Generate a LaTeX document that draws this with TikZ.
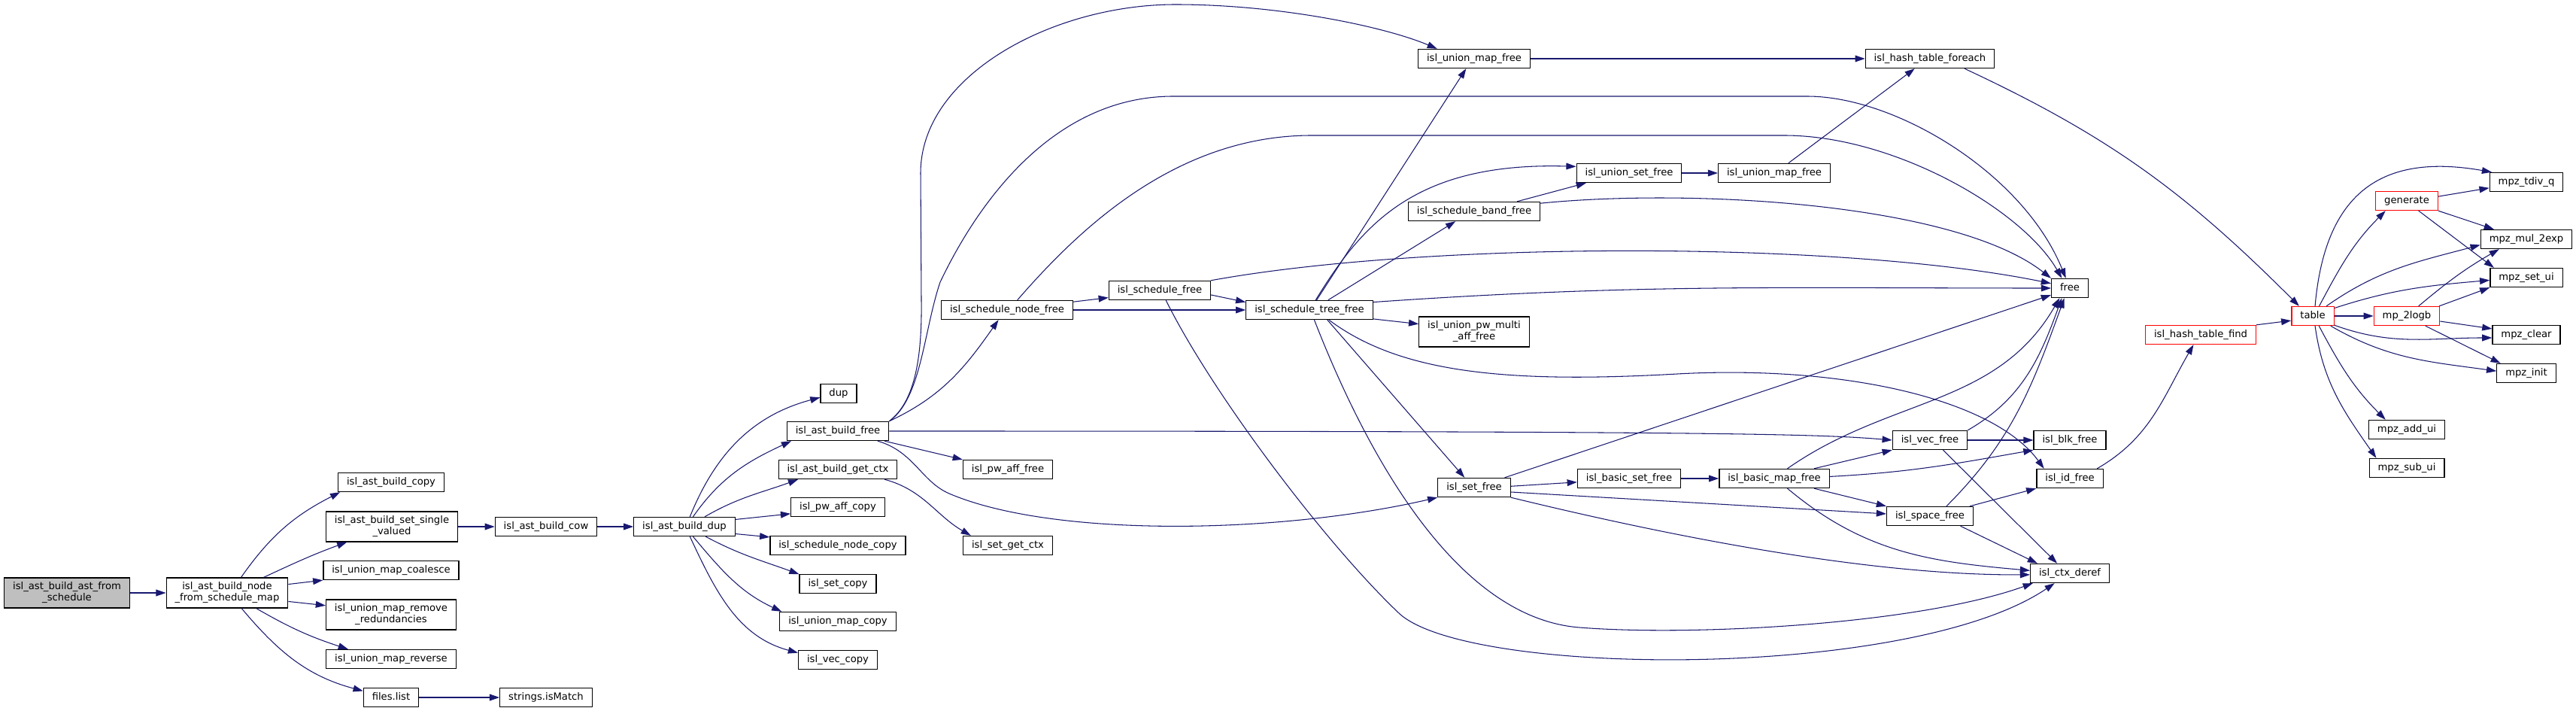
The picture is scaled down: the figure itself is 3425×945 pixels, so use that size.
\documentclass[tikz,border=0pt]{standalone}
\usepackage{fontspec}
\setmainfont{DejaVu Sans}
\usepackage{tikz}
\usetikzlibrary{arrows.meta}
\definecolor{dx-edge}{HTML}{191970}
\definecolor{dx-root}{HTML}{BFBFBF}
\definecolor{dx-red}{HTML}{FF0000}

\begin{document}
\begin{tikzpicture}[x=0.02cm, y=0.02cm,
    fn/.style={draw, line width=0.7pt, fill=white, inner xsep=6.5pt, inner ysep=3.3pt, minimum height=14.2pt, text height=5.8pt, text depth=1.9pt, font=\fontsize{7.5pt}{8.5pt}\selectfont},
    fntwo/.style={draw, line width=0.7pt, fill=white, inner xsep=6.5pt, inner ysep=3.3pt, minimum height=22.7pt, align=center, font=\fontsize{7.5pt}{8.5pt}\selectfont},
    rootfn/.style={fill=dx-root},
    redfn/.style={draw=dx-red},
    callto/.style={draw=dx-edge, line width=0.6pt, -{Triangle[length=7.5pt,width=5pt]}}]
    \useasboundingbox (0,0) rectangle (3425,-945);
    \fill[white] (0,0) rectangle (3425,-945);

    \node[fntwo, rootfn] (astsched) at (89,-788) {isl\_ast\_build\_ast\_from\\\_schedule};
    \node[fntwo] (nodemap) at (302,-788) {isl\_ast\_build\_node\\\_from\_schedule\_map};
    \node[fn] (bcopy) at (520,-641) {isl\_ast\_build\_copy};
    \node[fntwo] (single) at (521,-700) {isl\_ast\_build\_set\_single\\\_valued};
    \node[fn] (coalesce) at (520,-758) {isl\_union\_map\_coalesce};
    \node[fntwo] (redund) at (520,-817) {isl\_union\_map\_remove\\\_redundancies};
    \node[fn] (reverse) at (520,-876) {isl\_union\_map\_reverse};
    \node[fn] (flist) at (520,-927) {files.list};
    \node[fn] (cow) at (726,-700) {isl\_ast\_build\_cow};
    \node[fn] (ismatch) at (726,-927) {strings.isMatch};
    \node[fn] (bdup) at (910,-700) {isl\_ast\_build\_dup};
    \node[fn] (dup) at (1115,-523) {dup};
    \node[fn] (bfree) at (1114,-573) {isl\_ast\_build\_free};
    \node[fn] (getctx) at (1114,-624) {isl\_ast\_build\_get\_ctx};
    \node[fn] (pwcopy) at (1114,-674) {isl\_pw\_aff\_copy};
    \node[fn] (sncopy) at (1114,-725) {isl\_schedule\_node\_copy};
    \node[fn] (setcopy) at (1114,-776) {isl\_set\_copy};
    \node[fn] (umcopy) at (1114,-826) {isl\_union\_map\_copy};
    \node[fn] (veccopy) at (1114,-877) {isl\_vec\_copy};
    \node[fn] (pwfree) at (1340,-624) {isl\_pw\_aff\_free};
    \node[fn] (setctx) at (1340,-725) {isl\_set\_get\_ctx};
    \node[fn] (snfree) at (1339,-412) {isl\_schedule\_node\_free};
    \node[fn] (sfree) at (1542,-386) {isl\_schedule\_free};
    \node[fn] (tfree) at (1741,-412) {isl\_schedule\_tree\_free};
    \node[fn] (umfree) at (1960,-78) {isl\_union\_map\_free};
    \node[fn] (bandfree) at (1960,-281) {isl\_schedule\_band\_free};
    \node[fntwo] (upmafree) at (1960,-441) {isl\_union\_pw\_multi\\\_aff\_free};
    \node[fn] (setfree) at (1960,-648) {isl\_set\_free};
    \node[fn] (usfree) at (2166,-230) {isl\_union\_set\_free};
    \node[fn] (bsfree) at (2166,-636) {isl\_basic\_set\_free};
    \node[fn] (umfreetwo) at (2359,-230) {isl\_union\_map\_free};
    \node[fn] (bmfree) at (2359,-636) {isl\_basic\_map\_free};
    \node[fn] (foreach) at (2566,-78) {isl\_hash\_table\_foreach};
    \node[fn] (vecfree) at (2566,-585) {isl\_vec\_free};
    \node[fn] (spfree) at (2566,-686) {isl\_space\_free};
    \node[fn] (free) at (2752,-383) {free};
    \node[fn] (blkfree) at (2752,-585) {isl\_blk\_free};
    \node[fn] (idfree) at (2752,-636) {isl\_id\_free};
    \node[fn] (ctxderef) at (2752,-762) {isl\_ctx\_deref};
    \node[fn, redfn] (find) at (2926,-445) {isl\_hash\_table\_find};
    \node[fn, redfn] (table) at (3075,-420) {table};
    \node[fn, redfn] (generate) at (3200,-267) {generate};
    \node[fn, redfn] (logb) at (3200,-420) {mp\_2logb};
    \node[fn] (tdivq) at (3359,-242) {mpz\_tdiv\_q};
    \node[fn] (mulexp) at (3359,-318) {mpz\_mul\_2exp};
    \node[fn] (setui) at (3359,-369) {mpz\_set\_ui};
    \node[fn] (clear) at (3359,-445) {mpz\_clear};
    \node[fn] (init) at (3359,-496) {mpz\_init};
    \node[fn] (addui) at (3200,-571) {mpz\_add\_ui};
    \node[fn] (subui) at (3200,-622) {mpz\_sub\_ui};

    \draw[callto] (astsched) -- (nodemap);
    \draw[callto] (nodemap.48) to[out=55,in=207] (bcopy.191);
    \draw[callto] (nodemap.23) to[out=25,in=200] (single.199);
    \draw[callto] (nodemap.8) -- (coalesce.south west);
    \draw[callto] (nodemap.352) -- (redund.172);
    \draw[callto] (nodemap.332) to[out=-30,in=162] (reverse.167);
    \draw[callto] (nodemap.313) to[out=-50,in=165] (flist.167);
    \draw[callto] (single) -- (cow);
    \draw[callto] (cow) -- (bdup);
    \draw[callto] (flist) -- (ismatch);

    \draw[callto] (bdup.61) to[out=68,in=195] (dup.192);
    \draw[callto] (bdup.49) to[out=55,in=205] (bfree.192);
    \draw[callto] (bdup.26) to[out=30,in=200] (getctx.194);
    \draw[callto] (bdup.8) -- (pwcopy.188);
    \draw[callto] (bdup.352) -- (sncopy.173);
    \draw[callto] (bdup.335) to[out=-28,in=160] (setcopy.166);
    \draw[callto] (bdup.311) to[out=-50,in=155] (umcopy.170);
    \draw[callto] (bdup.299) to[out=-65,in=165] (veccopy.170);

    \draw[callto] (bfree.north east) .. controls (1215,-535) and (1226,-480) .. (1225,-400) -- (1224,-230) .. controls (1224,-100) and (1400,-6) .. (1563,-6) .. controls (1700,-6) and (1840,-35) .. (umfree.165);
    \draw[callto] (bfree.north east) .. controls (1225,-530) and (1228,-440) .. (1250,-375) .. controls (1300,-270) and (1400,-128) .. (1560,-128) -- (2403,-128) .. controls (2520,-128) and (2690,-230) .. (free.112);
    \draw[callto] (bfree.north east) to[out=25,in=235] (snfree.229);
    \draw[callto] (bfree.east) .. controls (2300,-573) and (2420,-577) .. (vecfree.west);
    \draw[callto] (bfree.348) -- (pwfree.north west);
    \draw[callto] (bfree.346) .. controls (1215,-600) and (1225,-640) .. (1262,-656) .. controls (1400,-715) and (1700,-710) .. (setfree.south west);
    \draw[callto] (getctx.348) to[out=-15,in=150] (setctx.165);

    \draw[callto] (snfree.7) -- (sfree.188);
    \draw[callto] (snfree) -- (tfree);
    \draw[callto] (snfree.44) .. controls (1430,-310) and (1560,-180) .. (1744,-180) -- (2372,-180) .. controls (2520,-180) and (2690,-280) .. (free.129);
    \draw[callto] (sfree.355) -- (tfree.173);
    \draw[callto] (sfree.11) .. controls (1900,-320) and (2450,-320) .. (free.166);
    \draw[callto] (sfree.302) .. controls (1610,-520) and (1760,-720) .. (1860,-815) .. controls (1950,-900) and (2540,-905) .. (ctxderef.213);

    \draw[callto] (tfree.54) -- (umfree.231);
    \draw[callto] (tfree.58) .. controls (1810,-300) and (1880,-215) .. (usfree.173);
    \draw[callto] (tfree.28) -- (bandfree.208);
    \draw[callto] (tfree.7) to[out=4,in=180] (free.west);
    \draw[callto] (tfree.352) -- (upmafree.172);
    \draw[callto] (tfree.331) -- (setfree.134);
    \draw[callto] (tfree.333) .. controls (1860,-495) and (2000,-510) .. (2230,-497) .. controls (2450,-485) and (2650,-530) .. (idfree.159);
    \draw[callto] (tfree.296) .. controls (1800,-560) and (1920,-820) .. (2100,-834) .. controls (2250,-846) and (2550,-830) .. (ctxderef.195);

    \draw[callto] (umfree) -- (foreach);
    \draw[callto] (usfree) -- (umfreetwo);
    \draw[callto] (umfreetwo.35) -- (foreach.213);
    \draw[callto] (bandfree.13) -- (usfree.193);
    \draw[callto] (bandfree.7) .. controls (2250,-250) and (2600,-270) .. (free.north west);
    \draw[callto] (setfree.18) -- (free.200);
    \draw[callto] (setfree.2) -- (bsfree.184);
    \draw[callto] (setfree.353) -- (spfree.177);
    \draw[callto] (setfree.south east) .. controls (2250,-720) and (2500,-765) .. (ctxderef.182);
    \draw[callto] (bsfree) -- (bmfree);
    \draw[callto] (bmfree.14) -- (vecfree.south west);
    \draw[callto] (bmfree.2) to[out=3,in=190] (blkfree.south west);
    \draw[callto] (bmfree.346) -- (spfree.north west);
    \draw[callto] (bmfree.323) to[out=-40,in=175] (ctxderef.176);
    \draw[callto] (bmfree.37) to[out=35,in=240] (free.224);
    \draw[callto] (vecfree) -- (blkfree);
    \draw[callto] (vecfree.north east) to[out=30,in=250] (free.231);
    \draw[callto] (vecfree.323) -- (ctxderef.142);
    \draw[callto] (spfree.14) -- (idfree.south west);
    \draw[callto] (spfree.342) -- (ctxderef.163);
    \draw[callto] (spfree.31) to[out=45,in=250] (free.241);
    \draw[callto] (idfree.20) to[out=30,in=240] (find.234);
    \draw[callto] (find.north east) -- (table.192);
    \draw[callto] (foreach.344) to[out=-25,in=135] (table.144);

    \draw[callto] (table.77) to[out=85,in=170,looseness=1.3] (tdivq.164);
    \draw[callto] (table.57) to[out=62,in=225] (generate.205);
    \draw[callto] (table.36) to[out=35,in=195] (mulexp.187);
    \draw[callto] (table.20) to[out=18,in=185] (setui.184);
    \draw[callto] (table) -- (logb);
    \draw[callto] (table.337) to[out=-20,in=180] (clear.185);
    \draw[callto] (table.331) to[out=-30,in=172] (init.176);
    \draw[callto] (table.302) to[out=-62,in=135] (addui.155);
    \draw[callto] (table.283) to[out=-82,in=125] (subui.162);
    \draw[callto] (generate.8) -- (tdivq.189);
    \draw[callto] (generate.south east) -- (mulexp.163);
    \draw[callto] (generate.320) -- (setui.163);
    \draw[callto] (logb.40) to[out=40,in=210] (mulexp.200);
    \draw[callto] (logb.17) -- (setui.south west);
    \draw[callto] (logb.351) -- (clear.170);
    \draw[callto] (logb.332) -- (init.159);
\end{tikzpicture}
\end{document}
